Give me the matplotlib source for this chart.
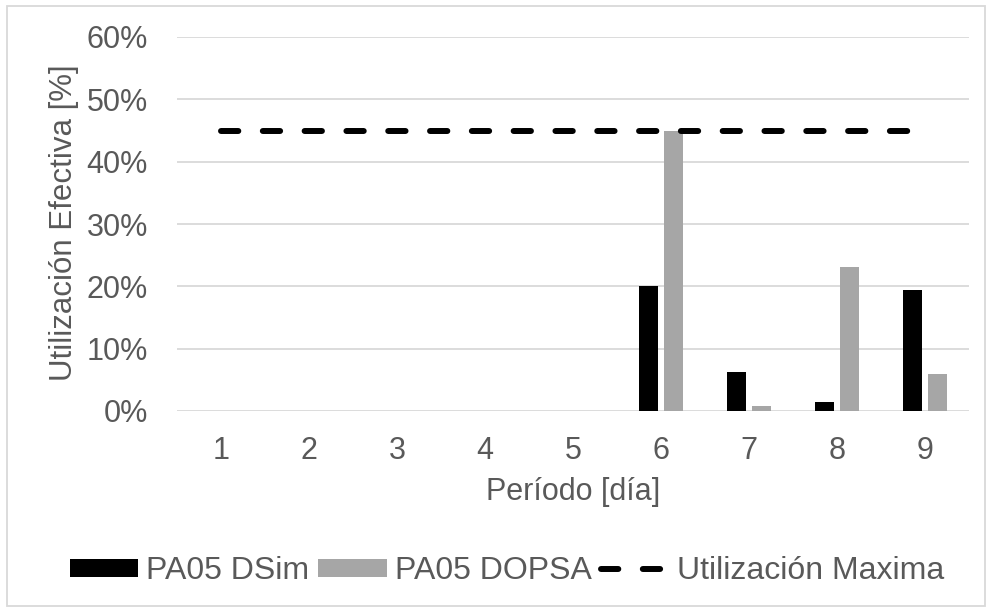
import matplotlib
matplotlib.use("Agg")
import matplotlib.pyplot as plt
from matplotlib.patches import Rectangle
from matplotlib.ticker import PercentFormatter, MultipleLocator

plt.rcParams['font.family'] = ['Liberation Sans', 'DejaVu Sans']

dias = [1, 2, 3, 4, 5, 6, 7, 8, 9]
pa05_dsim = [0, 0, 0, 0, 0, 20.1, 6.2, 1.5, 19.4]
pa05_dopsa = [0, 0, 0, 0, 0, 45.0, 0.8, 23.1, 5.9]
utilizacion_maxima = [45, 45, 45, 45, 45, 45, 45, 45, 45]

TXT = '#595959'
GRID = '#d9d9d9'
FS = 22

fig = plt.figure(figsize=(9.87, 6.08), dpi=100)
W, H = 987, 608
ax = fig.add_axes([177 / W, 1 - 411 / H, 792 / W, 374 / H])

# chart-area frame
fig.patches.append(Rectangle((6.5 / W, 2 / H), 979 / W, 600 / H,
                             transform=fig.transFigure, fill=False,
                             edgecolor=GRID, linewidth=1.3))

bw = 0.224
off = 0.142
h1 = ax.bar([d - off for d in dias], pa05_dsim, width=bw, color='#000000',
            label='PA05 DSim', zorder=3)
h2 = ax.bar([d + off for d in dias], pa05_dopsa, width=bw, color='#a6a6a6',
            label='PA05 DOPSA', zorder=3)
h3, = ax.plot(dias, utilizacion_maxima, color='#000000', linewidth=4.3,
              dashes=(2.9, 4.1), dash_capstyle='round',
              solid_capstyle='round', label='Utilización Maxima', zorder=4)

ax.set_xlim(0.5, 9.5)
ax.set_ylim(0, 60)
ax.yaxis.set_major_locator(MultipleLocator(10))
ax.yaxis.set_major_formatter(PercentFormatter(100, decimals=0))
ax.set_xticks(dias)
ax.set_xticklabels([str(d) for d in dias])

ax.grid(axis='y', color=GRID, linewidth=1.3, zorder=0)
ax.set_axisbelow(True)
for s in ax.spines.values():
    s.set_visible(False)
ax.tick_params(axis='both', length=0, labelsize=FS, labelcolor=TXT)
ax.tick_params(axis='y', pad=21)
ax.tick_params(axis='x', pad=18)

ax.set_xlabel('Período [día]', fontsize=FS, color=TXT, labelpad=8)
# vertical axis title placed in figure coordinates
fig.text(64 / W, 1 - 223 / H, 'Utilización Efectiva [%]', rotation=90,
         ha='center', va='center', fontsize=FS + 0.5, color=TXT)

leg = fig.legend(handles=[h1, h2, h3], loc='center',
                 bbox_to_anchor=(507 / W, 1 - 571 / H), ncol=3,
                 frameon=False, fontsize=23, handlelength=2.13,
                 handleheight=0.48, handletextpad=0.25, columnspacing=0.3,
                 borderpad=0)
for t in leg.get_texts():
    t.set_color(TXT)

fig.savefig('out.png', dpi=100)
